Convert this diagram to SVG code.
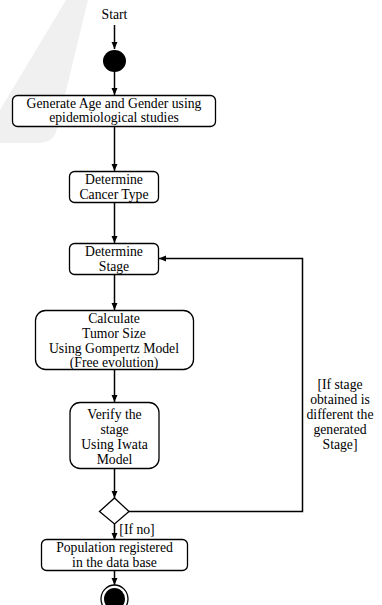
<svg xmlns="http://www.w3.org/2000/svg" width="382" height="605" viewBox="0 0 382 605">
  <style>
    .box { fill: #ffffff; stroke: #000000; stroke-width: 1.3; }
    .edge { fill: none; stroke: #000000; stroke-width: 1.5; }
    .lbl { font-family: "Liberation Serif", "Times New Roman", serif; font-size: 13.7px; fill: #000000; text-anchor: middle; }
  </style>
  <defs>
    <marker id="arrow" markerWidth="8" markerHeight="8" refX="7" refY="4" orient="auto" markerUnits="userSpaceOnUse">
      <path d="M0,1 L7,4 L0,7 Z" fill="#000000"/>
    </marker>
  </defs>

  <rect width="382" height="605" fill="#ffffff"/>

  <!-- faint background mark -->
  <path d="M66,0 L88,0 L56,132 Q52,143 38,143 L0,143 L0,110 Z" fill="#f0f0f0"/>

  <!-- connectors -->
  <g id="connectors">
    <line class="edge" x1="114.5" y1="25" x2="114.5" y2="49" marker-end="url(#arrow)"/>
    <line class="edge" x1="114.5" y1="71" x2="114.5" y2="95" marker-end="url(#arrow)"/>
    <line class="edge" x1="114.5" y1="126" x2="114.5" y2="171" marker-end="url(#arrow)"/>
    <line class="edge" x1="114.5" y1="203" x2="114.5" y2="243" marker-end="url(#arrow)"/>
    <line class="edge" x1="114.5" y1="274" x2="114.5" y2="310" marker-end="url(#arrow)"/>
    <line class="edge" x1="114.5" y1="370" x2="114.5" y2="402" marker-end="url(#arrow)"/>
    <line class="edge" x1="114.5" y1="469" x2="114.5" y2="498" marker-end="url(#arrow)"/>
    <line class="edge" x1="114.5" y1="524" x2="114.5" y2="540" marker-end="url(#arrow)"/>
    <line class="edge" x1="114.5" y1="571" x2="114.5" y2="585" marker-end="url(#arrow)"/>
    <polyline class="edge" points="129,511.5 302.5,511.5 302.5,258.5 159,258.5" marker-end="url(#arrow)"/>
    <text class="lbl" x="340" y="389">[If stage</text>
    <text class="lbl" x="340" y="404">obtained is</text>
    <text class="lbl" x="340" y="419">different the</text>
    <text class="lbl" x="340" y="434">generated</text>
    <text class="lbl" x="340" y="449">Stage]</text>
    <text class="lbl" x="137" y="534">[If no]</text>
  </g>

  <g id="start">
    <text class="lbl" x="114.5" y="19">Start</text>
    <ellipse cx="114.5" cy="61" rx="11.5" ry="11" fill="#000000"/>
  </g>

  <g id="generate">
    <rect class="box" x="12.5" y="95.5" width="203" height="31" rx="5"/>
    <text class="lbl" x="114" y="107.5">Generate Age and Gender using</text>
    <text class="lbl" x="114" y="122">epidemiological studies</text>
  </g>

  <g id="cancer-type">
    <rect class="box" x="69.5" y="171.5" width="89" height="31" rx="5"/>
    <text class="lbl" x="114" y="184">Determine</text>
    <text class="lbl" x="114" y="199">Cancer Type</text>
  </g>

  <g id="stage">
    <rect class="box" x="69.5" y="243.5" width="89" height="31" rx="5"/>
    <text class="lbl" x="114" y="256">Determine</text>
    <text class="lbl" x="114" y="271">Stage</text>
  </g>

  <g id="tumor-size">
    <rect class="box" x="35.5" y="310.5" width="158" height="59" rx="10"/>
    <text class="lbl" x="114" y="323">Calculate</text>
    <text class="lbl" x="114" y="338">Tumor Size</text>
    <text class="lbl" x="114" y="353">Using Gompertz Model</text>
    <text class="lbl" x="114" y="367">(Free evolution)</text>
  </g>

  <g id="verify">
    <rect class="box" x="70" y="402.5" width="89" height="66" rx="10"/>
    <text class="lbl" x="114.5" y="419">Verify the</text>
    <text class="lbl" x="114.5" y="434">stage</text>
    <text class="lbl" x="114.5" y="449">Using Iwata</text>
    <text class="lbl" x="114.5" y="464">Model</text>
  </g>

  <g id="decision">
    <polygon class="box" points="114.5,498 129,511.5 114.5,524 99.5,511.5"/>
  </g>

  <g id="population">
    <rect class="box" x="41.5" y="539.5" width="146" height="31" rx="5"/>
    <text class="lbl" x="114.5" y="552">Population registered</text>
    <text class="lbl" x="114.5" y="567">in the data base</text>
  </g>

  <g id="end">
    <ellipse cx="114.5" cy="599" rx="13.5" ry="14" fill="#ffffff" stroke="#000000" stroke-width="1.3"/>
    <ellipse cx="114.5" cy="599" rx="10.5" ry="11" fill="#000000"/>
  </g>
</svg>
